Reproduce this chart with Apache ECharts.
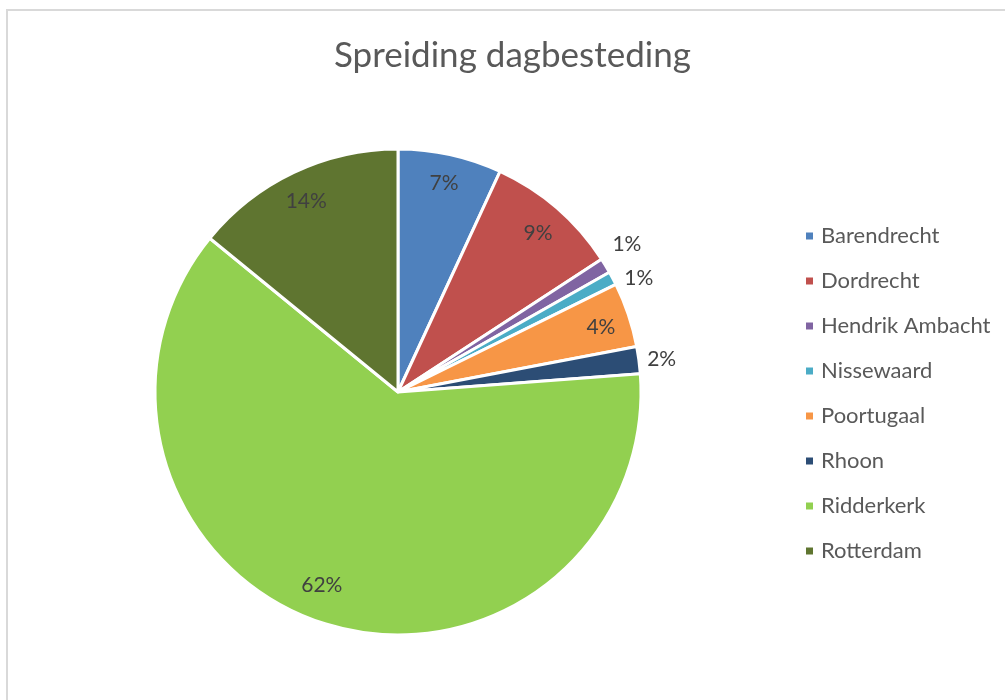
<!DOCTYPE html>
<html lang="nl">
<head>
  <meta charset="UTF-8">
  <title>Spreiding dagbesteding</title>
  <script src="https://cdn.jsdelivr.net/npm/echarts@6/dist/echarts.min.js"></script>
  <style>
    body { margin: 0; background: #fff; }
    #main { width: 1005px; height: 700px; }
  </style>
</head>
<body>
  <div id="main"></div>
  <script>
    // gegevens
    var plaatsen = ['Barendrecht', 'Dordrecht', 'Hendrik Ambacht', 'Nissewaard', 'Poortugaal', 'Rhoon', 'Ridderkerk', 'Rotterdam'];
    var aandeel = [6.9, 8.9, 1.0, 0.9, 4.3, 1.8, 62.1, 14.1];
    var kleuren = ['#4F81BD', '#C0504D', '#8064A2', '#4BACC6', '#F79646', '#2C4D75', '#92D050', '#5F7530'];

    var myChart = echarts.init(document.getElementById('main'));
    var font = 'Lato, "Open Sans", sans-serif';
    var center = [398, 392];

    function pct(p) { return Math.round(p.percent) + '%'; }

    var data = plaatsen.map(function (n, i) {
      return { name: n, value: aandeel[i], itemStyle: { color: kleuren[i] } };
    });

    // onzichtbare ring alleen voor de labels; toon = {naam: offset}
    function labelRing(radius, toon) {
      return {
        type: 'pie',
        silent: true,
        legendHoverLink: false,
        center: center,
        radius: radius,
        startAngle: 90,
        clockwise: true,
        avoidLabelOverlap: false,
        itemStyle: { color: 'transparent', borderWidth: 0 },
        emphasis: { disabled: true },
        labelLine: { show: false },
        data: plaatsen.map(function (n, i) {
          return {
            name: n, value: aandeel[i],
            label: { show: n in toon, offset: toon[n] || [0, 0] }
          };
        }),
        label: {
          position: 'inside',
          formatter: pct,
          color: '#404040',
          fontFamily: font,
          fontSize: 21
        }
      };
    }

    var option = {
      backgroundColor: '#fff',
      animation: false,
      color: kleuren,
      title: {
        text: 'Spreiding dagbesteding',
        left: 329,
        top: 33,
        textStyle: { fontFamily: font, fontWeight: 'normal', fontSize: 35, color: '#595959' }
      },
      graphic: [{
        type: 'polyline',
        shape: { points: [[7, 700], [7, 10], [1005, 10]] },
        style: { stroke: '#d9d9d9', lineWidth: 2, fill: null }
      }],
      legend: {
        orient: 'vertical',
        left: 799,
        top: 220,
        icon: 'rect',
        itemWidth: 9,
        itemHeight: 9,
        itemGap: 23,
        selectedMode: false,
        data: plaatsen,
        textStyle: { fontFamily: font, fontSize: 22, color: '#595959', lineHeight: 22, padding: [0, 0, 0, 2] }
      },
      series: [
        {
          name: 'Spreiding',
          type: 'pie',
          center: center,
          radius: [0, 243],
          startAngle: 90,
          clockwise: true,
          itemStyle: { borderColor: '#fff', borderWidth: 3 },
          label: { show: false },
          labelLine: { show: false },
          emphasis: { disabled: true },
          data: data
        },
        labelRing([180, 242], {
          'Barendrecht': [0, 0], 'Dordrecht': [0, 3], 'Poortugaal': [0, 3],
          'Ridderkerk': [-12, -11], 'Rotterdam': [0, 3]
        }),
        labelRing([246, 284], { 'Hendrik Ambacht': [0, -8], 'Rhoon': [-2, 2] }),
        labelRing([246, 284], { 'Nissewaard': [4, 12] })
      ]
    };

    myChart.setOption(option);
  </script>
</body>
</html>
